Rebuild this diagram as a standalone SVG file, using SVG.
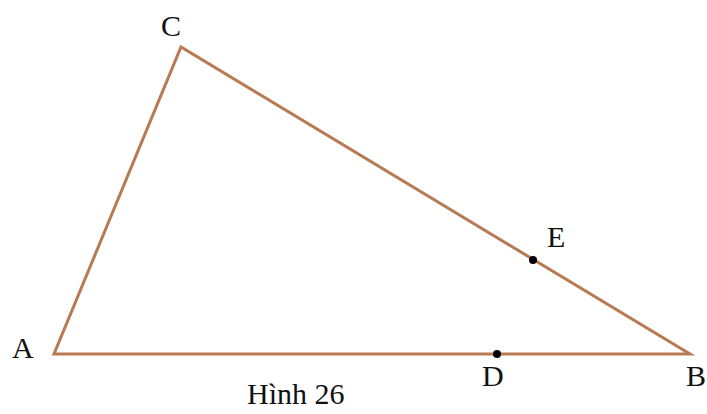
<svg xmlns="http://www.w3.org/2000/svg" width="707" height="414" viewBox="0 0 707 414">
<style>
.edge{stroke:#b77a52;stroke-width:3;fill:none;stroke-linejoin:miter}
.lbl{font-family:"Liberation Serif","Times New Roman",serif;font-size:30px;fill:#111}
.pt{fill:#000}
</style>
<rect width="707" height="414" fill="#fff"/>
<g id="connectors">
<polygon class="edge" points="54,354 690,354 181,47"/>
</g>
<g id="node-C"><text class="lbl" x="161" y="36">C</text></g>
<g id="node-A"><text class="lbl" x="12" y="358">A</text></g>
<g id="node-B"><text class="lbl" x="686" y="386">B</text></g>
<g id="node-E"><circle class="pt" cx="533" cy="260" r="4"/><text class="lbl" x="547" y="247">E</text></g>
<g id="node-D"><circle class="pt" cx="497" cy="354" r="4"/><text class="lbl" x="482" y="386">D</text></g>
<g id="caption"><text class="lbl" x="247" y="404">Hình 26</text></g>
</svg>
